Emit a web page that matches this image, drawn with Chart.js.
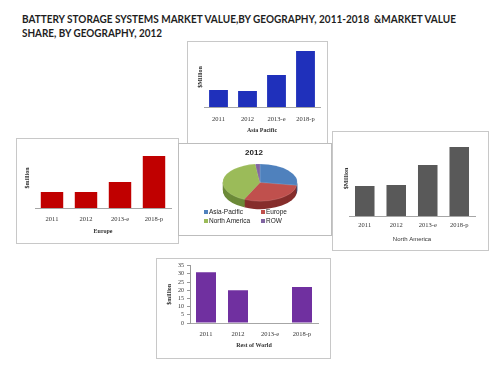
<!DOCTYPE html>
<html><head><meta charset="utf-8">
<script src="https://cdn.jsdelivr.net/npm/chart.js@4"></script>
<style>
html,body{margin:0;padding:0;background:#fff;width:491px;height:366px;overflow:hidden;position:relative}
.box{position:absolute;border:1px solid #c8c8c8;background:#fff;box-sizing:border-box}
canvas{position:absolute}
.t{position:absolute;left:22px;font:bold 11px Lato, sans-serif;color:#1e1e1e;white-space:nowrap;transform-origin:0 50%;line-height:14px}
.lg{position:absolute;font:6.5px "Liberation Sans", Arial, sans-serif;color:#222;white-space:nowrap;line-height:8px;z-index:5}
.sq{position:absolute;width:4px;height:4px;z-index:5}
</style></head>
<body>
<div class="t" id="t1" data-w="434" style="top:12px">BATTERY STORAGE SYSTEMS MARKET VALUE,BY GEOGRAPHY, 2011-2018&nbsp;&nbsp;&amp;MARKET VALUE</div>
<div class="t" id="t2" data-w="140" style="top:26px">SHARE, BY GEOGRAPHY, 2012</div>

<div class="box" style="left:187px;top:41px;width:141px;height:110px;z-index:1"></div>
<canvas id="asia" width="140" height="104" style="left:187px;top:41px;z-index:2"></canvas>

<div class="box" style="left:16px;top:138px;width:163px;height:106px;z-index:1"></div>
<canvas id="europe" width="162" height="105" style="left:16px;top:138px;z-index:2"></canvas>

<div class="box" style="left:332px;top:131px;width:157px;height:120px;z-index:1"></div>
<canvas id="na" width="156" height="119" style="left:332px;top:131px;z-index:2"></canvas>

<div class="box" style="left:156px;top:258px;width:175px;height:101px;z-index:1"></div>
<canvas id="row" width="174" height="100" style="left:156px;top:258px;z-index:2"></canvas>

<div class="box" style="left:178px;top:143px;width:154px;height:93px;z-index:3;border-color:#bdbdbd"></div>
<div id="pieTitle" style="position:absolute;left:234px;width:40px;text-align:center;top:148px;line-height:10px;font:bold 8px 'Liberation Sans',Arial,sans-serif;color:#222;z-index:5">2012</div>
<canvas id="pie" width="120" height="75" style="left:200px;top:144.5px;z-index:4"></canvas>
<div id="legend"></div>

<script>
// ---- data ----
const years = ['2011', '2012', '2013-e', '2018-p'];
const asiaValues = [17, 16, 32, 56];
const europeValues = [16, 16, 26, 52];
const naValues = [30, 31, 51, 69];
const rowValues = [31, 20, 0, 22];
const rowTicks = [0, 5, 10, 15, 20, 25, 30, 35];
const pieLabels = ['Asia-Pacific', 'Europe', 'North America', 'ROW'];
const pieValues = [27.5, 29.5, 41, 2];

// ---- styles ----
const pieColors = ['#4f81bd', '#c0504d', '#9bbb59', '#8064a2'];
const pieSides = ['#2f5686', '#862e2c', '#6c8a38', '#5b4577'];

// fit title lines
document.querySelectorAll('.t').forEach(el => {
  const w = el.getBoundingClientRect().width;
  el.style.transform = 'scaleX(' + (parseFloat(el.dataset.w) / w) + ')';
});

const serif = 'Liberation Serif, Times New Roman, serif';
const sans = 'Liberation Sans, Arial, sans-serif';

function barChart(id, c) {
  return new Chart(document.getElementById(id), {
    type: 'bar',
    data: { labels: years, datasets: [{ data: c.values, backgroundColor: c.color, barPercentage: c.bp, categoryPercentage: 1 }] },
    options: {
      responsive: false, animation: false, events: [],
      layout: { padding: { top: c.top, right: c.right, bottom: 0, left: 0 } },
      plugins: { legend: { display: false }, tooltip: { enabled: false } },
      scales: {
        x: {
          grid: { display: false, drawTicks: false },
          border: { display: true, color: '#a6a6a6' },
          ticks: { font: { family: serif, size: 6.5 }, color: '#333', padding: c.tickPad, maxRotation: 0, autoSkip: false },
          title: { display: true, text: c.xTitle, font: c.xFont, color: '#333', padding: { top: 0, bottom: c.xtpb } },
          afterFit(s) { s.height = c.xh; }
        },
        y: {
          min: 0, max: c.max,
          afterBuildTicks(s) { if (c.yTicks) s.ticks = c.yTicks.map(v => ({ value: v })); },
          grid: c.yTicks ? { display: true, drawOnChartArea: false, drawTicks: true, tickLength: 3, color: '#999' } : { display: false },
          border: { display: !!c.yTicks, color: '#999' },
          ticks: c.yTicks ? { display: true, autoSkip: false, font: { family: serif, size: 6 }, color: '#333', padding: 3 } : { display: false },
          title: { display: true, text: c.yTitle, font: { family: serif, size: 6, weight: 'bold' }, color: '#333', padding: { top: c.ytpt, bottom: 0 } },
          afterFit(s) { s.width = c.yw; }
        }
      }
    }
  });
}

barChart('asia', { values: asiaValues, color: '#1f30bb', bp: 0.65, top: 6, right: 7, max: 60, xh: 38, yw: 17,
  tickPad: 8.4, xtpb: 11.4, ytpt: 9.4, xTitle: 'Asia Pacific', yTitle: '$Million', xFont: { family: serif, size: 6, weight: 'bold' } });
barChart('europe', { values: europeValues, color: '#c00000', bp: 0.66, top: 10, right: 7, max: 60, xh: 35, yw: 19,
  tickPad: 7.4, xtpb: 8.4, ytpt: 7.4, xTitle: 'Europe', yTitle: '$million', xFont: { family: serif, size: 6, weight: 'bold' } });
barChart('na', { values: naValues, color: '#595959', bp: 0.62, top: 10, right: 13, max: 75, xh: 34, yw: 17,
  tickPad: 5.4, xtpb: 7.4, ytpt: 10.4, xTitle: 'North America', yTitle: '$Million', xFont: { family: sans, size: 6 } });
barChart('row', { values: rowValues, color: '#7030a0', bp: 0.625, top: 7.7, right: 12, max: 35, xh: 35, yw: 34, yTicks: rowTicks,
  tickPad: 7.4, xtpb: 9.4, ytpt: 9.4, xTitle: 'Rest of World', yTitle: '$million', xFont: { family: serif, size: 6, weight: 'bold' } });

// 3D-ish tilted pie
const SQ = 0.5, DEPTH = 8;
const tilt = {
  id: 'tilt',
  beforeDatasetsDraw(chart) {
    const ctx = chart.ctx;
    const meta = chart.getDatasetMeta(0);
    const cx = meta.data[0].x, cy = meta.data[0].y;
    ctx.save();
    ctx.translate(cx, cy); ctx.scale(1, SQ); ctx.translate(-cx, -cy);
    for (let d = DEPTH; d > 0; d--) {
      meta.data.forEach((arc, i) => {
        ctx.beginPath();
        ctx.moveTo(arc.x, arc.y + d / SQ);
        ctx.arc(arc.x, arc.y + d / SQ, arc.outerRadius, arc.startAngle, arc.endAngle);
        ctx.closePath();
        ctx.fillStyle = pieSides[i];
        ctx.fill();
      });
    }
  },
  afterDatasetsDraw(chart) { chart.ctx.restore(); }
};
new Chart(document.getElementById('pie'), {
  type: 'pie',
  data: { labels: pieLabels, datasets: [{ data: pieValues, backgroundColor: pieColors, borderColor: 'rgba(255,255,255,0.35)', borderWidth: 0.5 }] },
  options: { responsive: false, animation: false, events: [], layout: { padding: 0 },
    plugins: { legend: { display: false }, tooltip: { enabled: false } } },
  plugins: [tilt]
});

// legend (2x2 grid)
const lg = document.getElementById('legend');
pieLabels.forEach((lab, i) => {
  const x = 204 + (i % 2) * 57, y = 212 + Math.floor(i / 2) * 9;
  const s = document.createElement('div'); s.className = 'sq';
  s.style.left = x + 'px'; s.style.top = (y - 2) + 'px'; s.style.background = pieColors[i];
  const t = document.createElement('div'); t.className = 'lg'; t.textContent = lab;
  t.style.left = (x + 5) + 'px'; t.style.top = (y - 4) + 'px';
  lg.appendChild(s); lg.appendChild(t);
});
</script>
</body></html>
